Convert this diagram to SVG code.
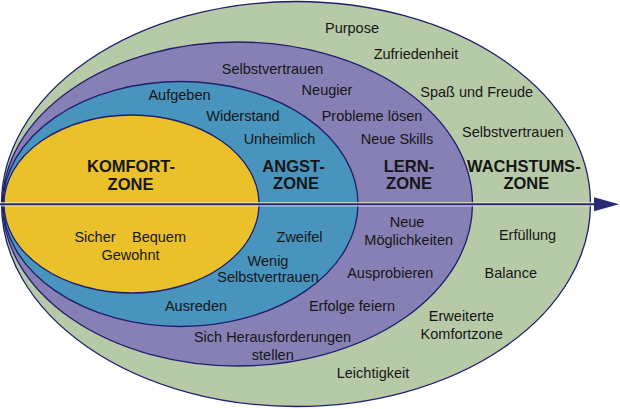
<svg xmlns="http://www.w3.org/2000/svg" width="620" height="409" viewBox="0 0 620 409">
<style>
.z{stroke:#1f1f6e;stroke-width:1.3}
.t{font-family:"Liberation Sans",Arial,sans-serif;font-size:14.5px;fill:#161616;text-anchor:middle}
.b{font-family:"Liberation Sans",Arial,sans-serif;font-size:16.5px;font-weight:bold;fill:#161616;text-anchor:middle}
</style>
<defs>
<marker id="ah" markerUnits="userSpaceOnUse" markerWidth="26" markerHeight="16" refX="0" refY="7" orient="auto">
<path d="M0,0 L25,7 L0,14 Z" fill="#2a2a78"/>
</marker>
</defs>
<rect width="620" height="409" fill="#ffffff"/>
<g id="wachstumszone">
<ellipse class="z" cx="296" cy="204" rx="294.5" ry="202.5" fill="#b6caa7"/>
</g>
<g id="lernzone">
<ellipse class="z" cx="237.5" cy="204" rx="235" ry="162" fill="#8780b4"/>
</g>
<g id="angstzone">
<ellipse class="z" cx="180.5" cy="204" rx="177.5" ry="122.5" fill="#4894bd"/>
</g>
<g id="komfortzone">
<ellipse class="z" cx="131.5" cy="204" rx="127.5" ry="89" fill="#eac12b"/>
</g>
<g id="connectors">
<line x1="0" y1="204.3" x2="594" y2="204.3" stroke="#f4f1c8" stroke-width="4.5" stroke-opacity="0.7"/>
<line x1="0" y1="204.3" x2="594" y2="204.3" stroke="#2a2a78" stroke-width="2" marker-end="url(#ah)"/>
</g>
<g id="labels-komfort">
<text class="b" x="131" y="172">KOMFORT-</text>
<text class="b" x="130.5" y="189.5">ZONE</text>
<text class="t" x="95" y="242.3">Sicher</text>
<text class="t" x="159" y="242.3">Bequem</text>
<text class="t" x="130.5" y="259.7">Gewohnt</text>
</g>
<g id="labels-angst">
<text class="b" x="293.5" y="172">ANGST-</text>
<text class="b" x="296" y="189.3">ZONE</text>
<text class="t" x="179.5" y="100">Aufgeben</text>
<text class="t" x="243" y="121">Widerstand</text>
<text class="t" x="279.5" y="144">Unheimlich</text>
<text class="t" x="299.5" y="241.7">Zweifel</text>
<text class="t" x="268" y="266.3">Wenig</text>
<text class="t" x="268" y="281.7">Selbstvertrauen</text>
<text class="t" x="196" y="311.3">Ausreden</text>
</g>
<g id="labels-lern">
<text class="b" x="409" y="172">LERN-</text>
<text class="b" x="409" y="189.3">ZONE</text>
<text class="t" x="272.5" y="73.7">Selbstvertrauen</text>
<text class="t" x="327" y="94.5">Neugier</text>
<text class="t" x="372" y="120.7">Probleme lösen</text>
<text class="t" x="397" y="144">Neue Skills</text>
<text class="t" x="407" y="227.3">Neue</text>
<text class="t" x="408.7" y="244.7">Möglichkeiten</text>
<text class="t" x="390.3" y="278">Ausprobieren</text>
<text class="t" x="352" y="310.7">Erfolge feiern</text>
<text class="t" x="272.5" y="342.3">Sich Herausforderungen</text>
<text class="t" x="272.8" y="360">stellen</text>
</g>
<g id="labels-wachstum">
<text class="b" x="523.8" y="171.7">WACHSTUMS-</text>
<text class="b" x="526.3" y="189.3">ZONE</text>
<text class="t" x="352" y="33.3">Purpose</text>
<text class="t" x="416" y="59">Zufriedenheit</text>
<text class="t" x="476.7" y="97.3">Spaß und Freude</text>
<text class="t" x="512.8" y="136.7">Selbstvertrauen</text>
<text class="t" x="527.5" y="239.7">Erfüllung</text>
<text class="t" x="510.8" y="278">Balance</text>
<text class="t" x="461.5" y="321.3">Erweiterte</text>
<text class="t" x="461.7" y="339">Komfortzone</text>
<text class="t" x="373" y="378">Leichtigkeit</text>
</g>
</svg>
